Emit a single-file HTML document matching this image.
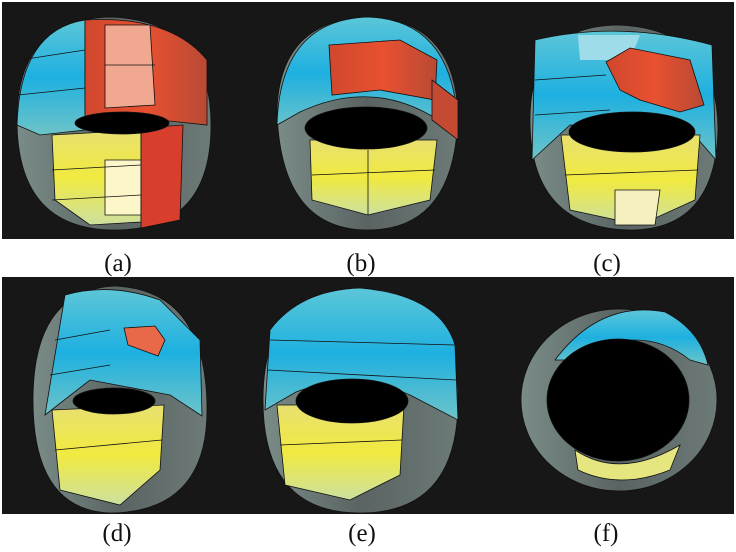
<!DOCTYPE html>
<html><head><meta charset="utf-8">
<style>
html,body{margin:0;padding:0;background:#fff;}
body{width:736px;height:552px;overflow:hidden;position:relative;}
svg{position:absolute;left:0;top:0;}
.lbl{font-family:"Liberation Serif",serif;font-size:25px;fill:#111;}
</style></head>
<body>
<svg width="736" height="552" viewBox="0 0 736 552">
<defs>
<linearGradient id="blue" x1="0" y1="0" x2="0" y2="1"><stop offset="0" stop-color="#5cc6d8"/><stop offset="0.5" stop-color="#1eb0e0"/><stop offset="1" stop-color="#6ec4c8"/></linearGradient>
<linearGradient id="yel" x1="0" y1="0" x2="0" y2="1"><stop offset="0" stop-color="#e8e070"/><stop offset="0.5" stop-color="#f0ea40"/><stop offset="1" stop-color="#cde0a0"/></linearGradient>
<linearGradient id="gray" x1="0" y1="0" x2="1" y2="0"><stop offset="0" stop-color="#7a8c88"/><stop offset="0.5" stop-color="#5a6462"/><stop offset="1" stop-color="#6c7a78"/></linearGradient>
<linearGradient id="red" x1="0" y1="0" x2="1" y2="0"><stop offset="0" stop-color="#d0482e"/><stop offset="0.5" stop-color="#e85030"/><stop offset="1" stop-color="#b84a34"/></linearGradient>
</defs>
<rect x="2" y="2" width="732" height="237" fill="#171717"/>
<rect x="2" y="277" width="732" height="237" fill="#171717"/>

<g stroke="#111" stroke-width="0.8">
<path d="M17,120 Q17,20 110,17 Q211,20 211,125 Q211,230 115,230 Q17,230 17,120Z" fill="url(#gray)"/>
<path d="M17,125 Q20,30 85,20 L85,130 L40,135Z" fill="url(#blue)"/>
<path d="M85,20 Q170,15 207,60 L207,125 L160,120 L85,118Z" fill="url(#red)"/>
<path d="M105,25 L150,25 L155,105 L105,108Z" fill="#f0a890"/>
<path d="M52,135 L141,130 L141,222 L90,225 L55,200Z" fill="url(#yel)"/>
<path d="M105,160 L141,160 L141,215 L105,215Z" fill="#fdf6c8"/>
<path d="M141,128 L183,125 L180,220 L141,228Z" fill="#d83e2c"/>
<ellipse cx="122" cy="123" rx="47" ry="11" fill="#000"/>
<path d="M20,60 L85,50 M18,95 L85,88 M105,65 L155,65 M52,170 L141,165 M52,200 L141,195" fill="none"/>
</g>

<g stroke="#111" stroke-width="0.8">
<path d="M277,110 Q280,20 368,17 Q455,20 458,115 Q455,230 368,230 Q280,230 277,110Z" fill="url(#gray)"/>
<path d="M277,125 Q280,20 368,17 Q455,20 458,130 L430,115 Q368,80 300,112Z" fill="url(#blue)"/>
<path d="M329,45 L400,40 L437,60 L435,100 L380,90 L332,95Z" fill="url(#red)"/>
<path d="M432,80 L458,100 L458,140 L432,120Z" fill="#c44a34"/>
<path d="M310,140 L437,140 L430,200 L368,215 L312,200Z" fill="url(#yel)"/>
<ellipse cx="366" cy="128" rx="61" ry="21" fill="#000"/>
<path d="M312,175 L435,170 M368,150 L368,215" fill="none"/>
</g>

<g stroke="#111" stroke-width="0.8">
<path d="M530,120 Q530,25 620,25 Q718,30 718,130 Q715,230 630,230 Q530,228 530,120Z" fill="url(#gray)"/>
<path d="M532,160 L535,40 Q620,20 712,45 L716,160 L690,130 L570,125Z" fill="url(#blue)"/>
<path d="M578,35 L640,35 L630,60 L580,60Z" fill="#9fdcea" stroke="none"/>
<path d="M606,62 L630,48 L690,60 L704,105 L680,112 L640,100 L620,90Z" fill="url(#red)"/>
<path d="M561,135 L700,135 L695,200 L640,225 L570,210Z" fill="url(#yel)"/>
<path d="M615,190 L660,190 L655,225 L615,225Z" fill="#f6f0c0"/>
<ellipse cx="632" cy="132" rx="63" ry="20" fill="#000"/>
<path d="M535,80 L606,75 M535,115 L610,110 M565,175 L698,170" fill="none"/>
</g>

<g stroke="#111" stroke-width="0.8">
<path d="M33,400 Q33,290 115,286 Q207,290 207,410 Q207,512 110,513 Q33,510 33,400Z" fill="url(#gray)"/>
<path d="M45,415 L65,295 Q110,282 160,300 L200,340 L202,416 L170,395 L90,380Z" fill="url(#blue)"/>
<path d="M124,328 L155,326 L165,340 L158,356 L128,345Z" fill="#e8684a"/>
<path d="M52,410 L164,405 L160,470 L120,505 L60,490Z" fill="url(#yel)"/>
<ellipse cx="114" cy="401" rx="41" ry="13" fill="#000"/>
<path d="M55,340 L110,330 M50,375 L110,365 M55,450 L162,440" fill="none"/>
</g>

<g stroke="#111" stroke-width="0.8">
<path d="M263,400 Q263,290 360,288 Q458,290 458,400 Q458,513 360,513 Q263,513 263,400Z" fill="url(#gray)"/>
<path d="M265,410 L270,330 Q300,290 360,288 Q440,295 455,345 L458,420 L410,395 Q355,370 296,392Z" fill="url(#blue)"/>
<path d="M277,405 L404,405 L400,475 L350,500 L285,485Z" fill="url(#yel)"/>
<ellipse cx="352" cy="401" rx="56" ry="22" fill="#000"/>
<path d="M270,340 L455,345 M268,370 L456,380 M280,445 L402,440" fill="none"/>
</g>

<g stroke="#111" stroke-width="0.8">
<ellipse cx="619" cy="400" rx="98" ry="91" fill="url(#gray)"/>
<path d="M555,360 Q600,300 665,312 Q700,330 708,365 L690,360 Q640,320 570,360Z" fill="url(#blue)"/>
<path d="M575,450 Q620,480 680,445 L670,470 Q620,490 578,470Z" fill="#e6e680"/>
<ellipse cx="618" cy="400" rx="71" ry="61" fill="#000"/>
</g>

<text class="lbl" x="118" y="271" text-anchor="middle">(a)</text>
<text class="lbl" x="361" y="271" text-anchor="middle">(b)</text>
<text class="lbl" x="607" y="271" text-anchor="middle">(c)</text>
<text class="lbl" x="117" y="541" text-anchor="middle">(d)</text>
<text class="lbl" x="362" y="541" text-anchor="middle">(e)</text>
<text class="lbl" x="606" y="541" text-anchor="middle">(f)</text>
</svg>
</body></html>
